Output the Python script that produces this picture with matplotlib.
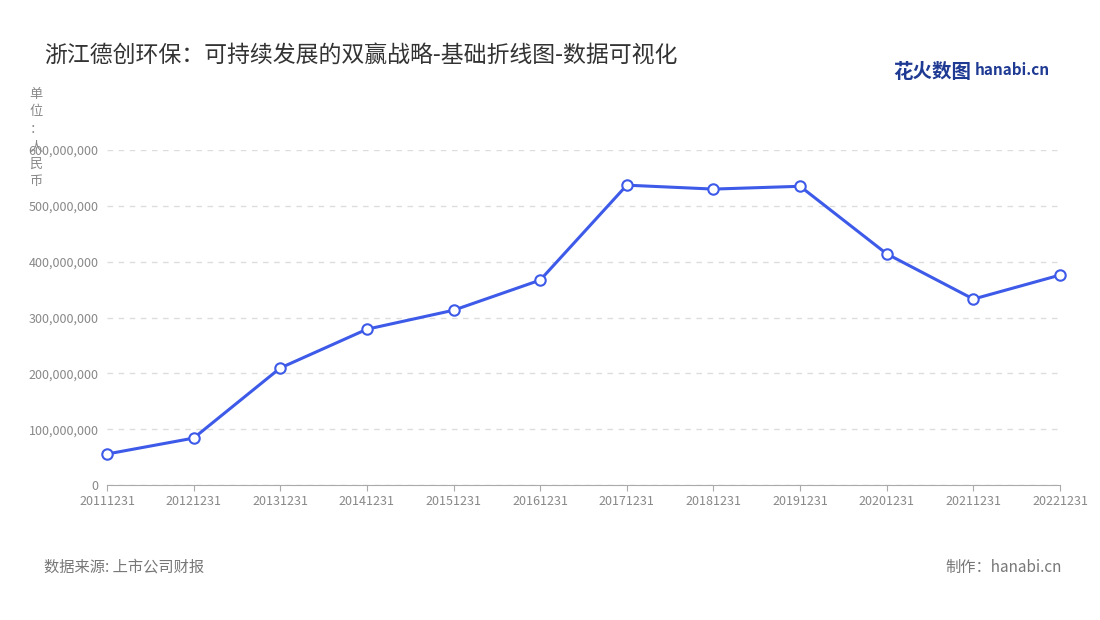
import matplotlib.pyplot as plt

plt.rcParams['font.family'] = ['Noto Sans CJK SC', 'DejaVu Sans']

# 报告期与数值（人民币）
periods = ['20111231', '20121231', '20131231', '20141231', '20151231', '20161231',
           '20171231', '20181231', '20191231', '20201231', '20211231', '20221231']
values = [55.5e6, 84e6, 209.6e6, 279e6, 313e6, 367e6,
          537e6, 530e6, 535e6, 414e6, 333e6, 376e6]
yticks = [0, 100e6, 200e6, 300e6, 400e6, 500e6, 600e6]

fig = plt.figure(figsize=(11, 6.2), dpi=100)
ax = fig.add_axes([107/1100, 1-485/620, (1060-107)/1100, 335/620])

x = list(range(len(periods)))
ax.plot(x, values, color='#3d5ae8', lw=2.2, marker='o', ms=7.5,
        markerfacecolor='white', markeredgecolor='#3d5ae8', markeredgewidth=1.5,
        zorder=3, clip_on=False)

ax.set_xlim(0, len(periods) - 1)
ax.set_ylim(0, 600e6)
ax.set_yticks(yticks)
ax.set_yticklabels([f'{int(v):,}' for v in yticks], fontsize=9, color='#888888')
ax.set_xticks(x)
ax.set_xticklabels(periods, fontsize=9, color='#888888')
ax.grid(axis='y', ls=(0, (4, 4)), color='#dddddd', lw=1)
for s in ['top', 'right', 'left']:
    ax.spines[s].set_visible(False)
ax.spines['bottom'].set_color('#aaaaaa')
ax.tick_params(axis='y', length=0, pad=6)
ax.tick_params(axis='x', length=4, color='#aaaaaa')

fig.text(44/1100, 1-55/620, '浙江德创环保：可持续发展的双赢战略-基础折线图-数据可视化',
         fontsize=16.5, color='#333333', va='center')
fig.text(36/1100, 1-88/620, '单\n位\n：\n人\n民\n币', fontsize=9.5, color='#888888',
         va='top', ha='center', linespacing=1.45)
fig.text(893/1100, 1-73/620, '花火数图', fontsize=14, color='#1f3a93',
         va='center', fontweight='bold')
fig.text(975/1100, 1-70/620, 'hanabi.cn', fontsize=11, color='#1f3a93',
         va='center', fontweight='bold')
fig.text(44/1100, 1-567/620, '数据来源: 上市公司财报', fontsize=11, color='#777777', va='center')
fig.text(1062/1100, 1-567/620, '制作：hanabi.cn', fontsize=11, color='#777777',
         va='center', ha='right')

fig.savefig('out.png', dpi=100)
